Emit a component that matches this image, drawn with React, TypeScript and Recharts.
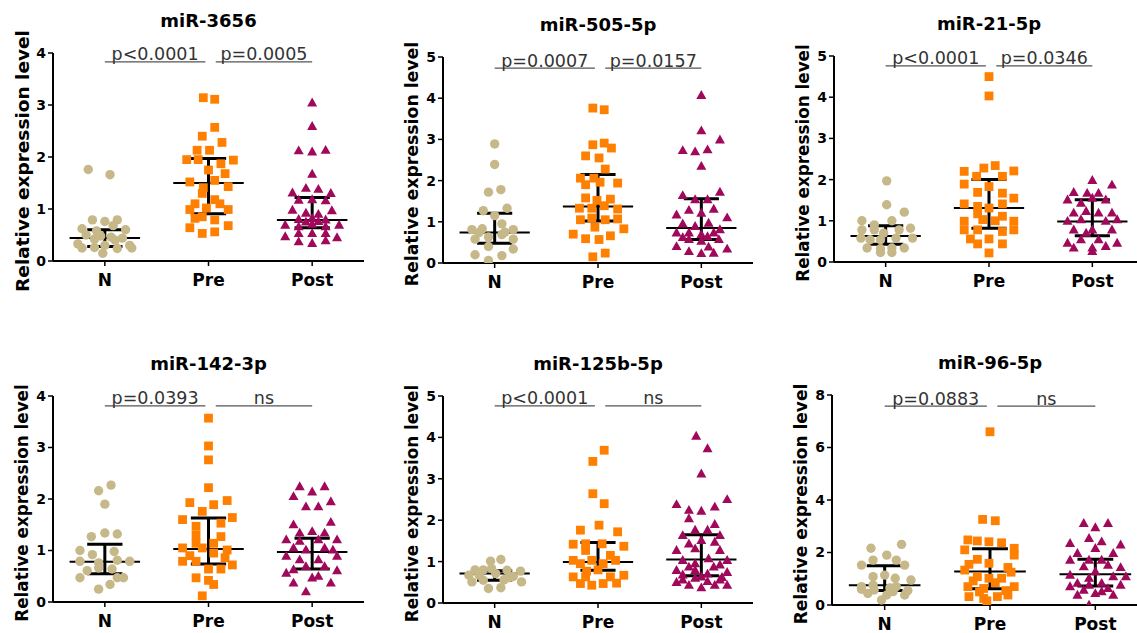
import { ReferenceLine, Scatter, ScatterChart, XAxis, YAxis } from "recharts";

const GROUPS = ["N", "Pre", "Post"];

const TAN = "#C6B888";
const ORANGE = "#FF8000";
const MAROON = "#A0085A";
const FONT = "'DejaVu Sans', 'Liberation Sans', sans-serif";

// [x jitter, value] pairs
const m3656N = [[-0.16, 1.76], [0.05, 1.66], [-0.12, 0.79], [0.0, 0.76], [0.12, 0.79], [-0.22, 0.62], [0.08, 0.68], [-0.08, 0.58], [0.2, 0.6], [-0.18, 0.5], [-0.04, 0.48], [0.06, 0.46], [0.17, 0.44], [-0.1, 0.42], [0.1, 0.4], [-0.26, 0.33], [0.0, 0.3], [0.24, 0.3], [-0.22, 0.25], [-0.1, 0.26], [0.12, 0.24], [0.26, 0.25], [-0.02, 0.15]];
const m3656Pre = [[-0.05, 3.14], [0.06, 3.11], [0.06, 2.57], [-0.06, 2.4], [0.13, 2.28], [-0.11, 2.13], [0.01, 2.13], [-0.21, 1.95], [-0.1, 1.95], [0.12, 1.87], [0.24, 1.94], [0.0, 1.75], [0.16, 1.68], [-0.18, 1.52], [-0.05, 1.41], [0.06, 1.55], [0.19, 1.43], [-0.06, 1.3], [0.06, 1.18], [-0.13, 1.1], [0.11, 1.1], [-0.02, 1.02], [-0.18, 0.99], [0.19, 0.99], [-0.06, 0.85], [0.06, 0.79], [-0.13, 0.82], [-0.18, 0.64], [0.19, 0.68], [-0.06, 0.53], [0.06, 0.56]];
const m3656Post = [[0, 3.04], [0, 2.59], [-0.13, 2.12], [0, 2.1], [0.13, 2.13], [0, 1.67], [-0.19, 1.31], [-0.06, 1.4], [0.06, 1.38], [0.18, 1.3], [-0.13, 1.17], [0.13, 1.16], [0, 1.18], [-0.19, 0.98], [-0.06, 0.92], [0.06, 0.9], [0.19, 0.97], [-0.13, 0.8], [0, 0.82], [0.13, 0.79], [-0.06, 0.75], [0.06, 0.76], [-0.26, 0.69], [-0.13, 0.66], [0, 0.71], [0.13, 0.66], [0.26, 0.69], [-0.26, 0.47], [-0.13, 0.53], [0, 0.53], [0.13, 0.53], [0.24, 0.45], [-0.13, 0.37], [0, 0.34], [0.13, 0.39]];

const m505N = [[0, 2.89], [0, 2.39], [-0.06, 1.72], [0.06, 1.78], [-0.11, 1.27], [0.12, 1.33], [0, 1.15], [-0.22, 0.81], [-0.12, 0.83], [0.07, 0.95], [0.18, 0.81], [0.1, 0.75], [-0.15, 0.74], [-0.19, 0.58], [-0.06, 0.63], [0.07, 0.69], [0.18, 0.58], [-0.06, 0.4], [0.18, 0.34], [-0.19, 0.2], [0.07, 0.18], [-0.06, 0.06]];
const m505Pre = [[-0.05, 3.76], [0.06, 3.72], [-0.05, 2.87], [0.06, 2.91], [0.13, 2.79], [-0.12, 2.6], [0.01, 2.55], [0.07, 2.28], [-0.17, 2.06], [-0.04, 2.06], [-0.12, 1.9], [0.19, 1.94], [0.02, 1.96], [-0.12, 1.58], [-0.01, 1.52], [0.12, 1.55], [-0.18, 1.33], [-0.06, 1.33], [0.06, 1.39], [0.19, 1.31], [-0.17, 1.05], [-0.06, 1.09], [0.07, 1.05], [0.19, 1.07], [-0.03, 0.87], [0.25, 0.83], [-0.24, 0.7], [0.12, 0.66], [-0.12, 0.59], [0.01, 0.57], [0.07, 0.24], [-0.05, 0.15]];
const m505Post = [[0, 4.07], [0, 3.21], [0.18, 2.99], [-0.18, 2.73], [-0.06, 2.7], [0.06, 2.75], [0, 2.35], [-0.18, 1.64], [-0.06, 1.54], [0.06, 1.54], [0.18, 1.72], [-0.24, 1.17], [-0.12, 1.28], [0, 1.21], [0.12, 1.31], [0.25, 1.1], [-0.18, 0.95], [-0.06, 0.89], [0.07, 0.97], [0.18, 0.81], [-0.24, 0.73], [-0.12, 0.73], [0, 0.69], [0.12, 0.73], [-0.18, 0.62], [0.06, 0.64], [-0.24, 0.4], [-0.12, 0.57], [0, 0.53], [0.07, 0.39], [0.25, 0.34], [0.17, 0.57], [-0.12, 0.28], [0, 0.23], [0.12, 0.24]];

const m21N = [[0.01, 1.97], [0.01, 1.39], [0.18, 1.21], [-0.23, 1.0], [-0.11, 0.9], [0.06, 1.0], [0.24, 0.82], [-0.23, 0.78], [-0.11, 0.78], [-0.02, 0.7], [0.13, 0.78], [-0.24, 0.58], [-0.15, 0.54], [-0.05, 0.54], [0.1, 0.58], [0.26, 0.58], [-0.18, 0.34], [-0.05, 0.32], [0.06, 0.34], [0.18, 0.34], [-0.05, 0.23], [0.06, 0.23]];
const m21Pre = [[0, 4.5], [0, 4.03], [-0.24, 2.2], [-0.05, 2.28], [0.06, 2.34], [0.24, 2.21], [-0.12, 2.08], [0.13, 2.08], [-0.24, 1.89], [-0.11, 1.69], [0.13, 1.67], [0.24, 1.55], [0, 1.83], [-0.24, 1.41], [-0.11, 1.35], [0, 1.31], [0.13, 1.41], [-0.11, 1.17], [0.13, 1.11], [-0.24, 0.99], [-0.06, 1.03], [0.06, 1.0], [0.24, 0.99], [-0.24, 0.78], [-0.11, 0.78], [0.13, 0.74], [0.24, 0.78], [-0.18, 0.56], [0, 0.56], [-0.11, 0.44], [0.13, 0.44], [0, 0.22]];
const m21Post = [[0, 1.98], [-0.18, 1.69], [-0.05, 1.67], [0.06, 1.67], [0.19, 1.87], [-0.24, 1.51], [-0.11, 1.43], [0.13, 1.51], [0, 1.55], [-0.18, 1.19], [-0.06, 1.23], [0.06, 1.19], [0.19, 1.19], [-0.24, 0.99], [-0.11, 1.03], [0.13, 0.99], [0.24, 1.03], [-0.18, 0.78], [0, 0.78], [0.19, 0.78], [-0.06, 0.7], [-0.24, 0.46], [-0.11, 0.54], [0.06, 0.54], [0.24, 0.46], [0, 0.34], [0.13, 0.38], [-0.18, 0.34], [0, 0.26]];

const m142N = [[0.06, 2.27], [-0.06, 2.16], [0, 1.9], [-0.13, 1.27], [0, 1.34], [0.12, 1.32], [-0.24, 1.0], [-0.12, 0.92], [0.09, 0.98], [0.24, 0.79], [-0.24, 0.79], [-0.06, 0.76], [0.12, 0.81], [-0.17, 0.61], [-0.06, 0.66], [0.07, 0.64], [-0.24, 0.47], [0.12, 0.47], [0.18, 0.47], [0.05, 0.34], [-0.06, 0.25]];
const m142Pre = [[0, 3.57], [0, 3.03], [0, 2.76], [0, 2.22], [-0.18, 1.93], [0.05, 1.89], [0.18, 1.97], [-0.06, 1.76], [-0.25, 1.6], [0.23, 1.64], [-0.12, 1.47], [0.12, 1.53], [-0.12, 1.3], [0.12, 1.27], [-0.25, 1.05], [-0.12, 1.14], [0.05, 1.14], [0.18, 1.01], [-0.06, 1.05], [0.05, 0.95], [-0.18, 0.9], [0.16, 0.86], [-0.25, 0.79], [-0.12, 0.79], [0.23, 0.72], [0, 0.64], [0.12, 0.64], [-0.12, 0.47], [0, 0.42], [0.05, 0.34], [-0.06, 0.12]];
const m142Post = [[-0.12, 2.24], [0.12, 2.24], [0, 2.14], [-0.18, 2.05], [0.18, 1.95], [-0.06, 1.85], [0.06, 1.85], [-0.18, 1.5], [0.18, 1.55], [-0.12, 1.34], [0, 1.37], [0.12, 1.34], [-0.25, 1.21], [-0.12, 1.18], [0.06, 1.21], [0.24, 1.21], [-0.18, 1.05], [-0.06, 1.01], [0.12, 1.05], [0.2, 1.01], [-0.25, 0.89], [-0.12, 0.82], [0.06, 0.82], [0.24, 0.89], [-0.18, 0.63], [-0.06, 0.69], [0.12, 0.69], [0.24, 0.61], [-0.25, 0.56], [0.06, 0.5], [-0.18, 0.37], [0, 0.47], [0.18, 0.37], [-0.06, 0.2]];

const m125N = [[-0.04, 1.01], [0.06, 1.05], [-0.19, 0.8], [-0.11, 0.8], [0.12, 0.79], [0.25, 0.77], [-0.25, 0.67], [-0.15, 0.67], [0.01, 0.71], [0.18, 0.64], [-0.22, 0.51], [-0.11, 0.55], [0.09, 0.56], [0.26, 0.51], [-0.06, 0.35], [0.06, 0.37], [-0.03, 0.83], [0.14, 0.61]];
const m125Pre = [[0.06, 3.69], [-0.05, 3.42], [-0.05, 2.64], [0.06, 2.4], [0.01, 1.88], [-0.17, 1.76], [0.19, 1.72], [-0.24, 1.42], [-0.12, 1.43], [0.04, 1.43], [0.25, 1.37], [-0.12, 1.27], [0.12, 1.15], [-0.24, 1.03], [-0.06, 1.03], [0.17, 1.03], [-0.17, 0.95], [0.05, 0.95], [-0.24, 0.63], [-0.12, 0.63], [0.12, 0.63], [0.25, 0.67], [-0.17, 0.47], [-0.06, 0.43], [0.05, 0.47], [0.18, 0.48], [0, 0.8], [-0.11, 0.77]];
const m125Post = [[-0.05, 4.03], [0.06, 3.73], [0, 3.12], [0.25, 2.5], [-0.24, 2.38], [-0.12, 2.24], [0, 2.22], [0.13, 2.32], [-0.12, 2.04], [0.13, 1.9], [-0.18, 1.63], [-0.06, 1.76], [0.06, 1.76], [0.18, 1.63], [-0.12, 1.43], [0, 1.51], [0.13, 1.47], [-0.24, 1.27], [-0.06, 1.31], [0.18, 1.27], [-0.18, 1.03], [0.07, 1.07], [0.25, 1.03], [-0.06, 0.95], [0.18, 0.92], [-0.12, 0.87], [0.12, 0.87], [-0.24, 0.79], [-0.06, 0.79], [0.06, 0.7], [-0.18, 0.68], [0.25, 0.74], [-0.18, 0.56], [0, 0.63], [0.18, 0.56], [-0.24, 0.5], [0.06, 0.52], [-0.06, 0.6], [0.2, 0.62], [-0.12, 0.43], [0, 0.37], [0.13, 0.43], [0.25, 0.43]];

const m96N = [[0.16, 2.31], [-0.13, 2.16], [0.02, 1.9], [-0.11, 1.71], [0.11, 1.71], [-0.22, 1.52], [0.19, 1.52], [-0.11, 1.08], [0, 1.14], [0.1, 1.02], [0.25, 0.95], [-0.22, 0.7], [-0.11, 0.76], [0.11, 0.7], [0.22, 0.55], [-0.22, 0.6], [0.05, 0.65], [-0.1, 0.57], [0.08, 0.51], [-0.16, 0.44], [0.02, 0.38], [0.19, 0.38], [-0.03, 0.19]];
const m96Pre = [[0, 6.6], [-0.07, 3.26], [0.05, 3.21], [-0.21, 2.48], [-0.12, 2.44], [-0.01, 2.41], [0.11, 2.37], [-0.24, 2.1], [0.23, 2.16], [0.23, 1.9], [-0.12, 1.74], [-0.01, 1.59], [-0.2, 1.55], [-0.24, 1.33], [0.17, 1.43], [0.2, 1.25], [-0.12, 1.08], [-0.01, 1.02], [0.11, 1.02], [-0.16, 0.92], [0.05, 0.85], [-0.21, 0.7], [-0.06, 0.63], [0.23, 0.7], [0.15, 0.55], [-0.1, 0.5], [-0.2, 0.32], [-0.06, 0.25], [0.07, 0.32], [0.17, 0.38], [-0.03, 0.16]];
const m96Post = [[-0.11, 3.11], [0.12, 3.11], [0, 2.95], [-0.24, 2.35], [-0.06, 2.54], [0.06, 2.41], [0.24, 2.29], [-0.17, 1.97], [0, 2.16], [0.17, 1.97], [-0.24, 1.71], [-0.06, 1.71], [0.06, 1.71], [-0.11, 1.46], [0.12, 1.52], [0.24, 1.43], [-0.24, 1.14], [0, 1.27], [0.17, 1.08], [0.29, 1.08], [-0.06, 1.02], [-0.17, 0.83], [-0.06, 0.76], [0.06, 0.83], [0.24, 0.76], [-0.24, 0.7], [0.12, 0.63], [-0.11, 0.57], [0.06, 0.51], [-0.17, 0.38], [0, 0.44], [0.17, 0.38], [-0.06, 0.0]];

// [median, Q1, Q3] for N, Pre, Post
const m3656Stats = [[0.44, 0.28, 0.6], [1.5, 0.91, 1.97], [0.79, 0.64, 1.22]];
const m505Stats = [[0.74, 0.48, 1.21], [1.37, 1.02, 2.15], [0.85, 0.57, 1.56]];
const m21Stats = [[0.63, 0.43, 0.88], [1.31, 0.82, 2.0], [0.98, 0.64, 1.51]];
const m142Stats = [[0.78, 0.55, 1.12], [1.03, 0.74, 1.63], [0.97, 0.64, 1.24]];
const m125Stats = [[0.71, 0.55, 0.78], [0.99, 0.79, 1.46], [1.05, 0.66, 1.65]];
const m96Stats = [[0.75, 0.55, 1.5], [1.28, 0.62, 2.14], [1.17, 0.72, 1.74]];

// p-value labels (N vs Pre, Pre vs Post)
const m3656P = ["p<0.0001", "p=0.0005"];
const m505P = ["p=0.0007", "p=0.0157"];
const m21P = ["p<0.0001", "p=0.0346"];
const m142P = ["p=0.0393", "ns"];
const m125P = ["p<0.0001", "ns"];
const m96P = ["p=0.0883", "ns"];

const panels = [
  { title: "miR-3656", n: m3656N, pre: m3656Pre, post: m3656Post, stats: m3656Stats, p: m3656P, yMax: 4, yTicks: [0, 1, 2, 3, 4], bracket: 3.83, left: 53, top: 53, w: 311, h: 208, labelSize: 18.5 },
  { title: "miR-505-5p", n: m505N, pre: m505Pre, post: m505Post, stats: m505Stats, p: m505P, yMax: 5, yTicks: [0, 1, 2, 3, 4, 5], bracket: 4.73, left: 443, top: 57, w: 310, h: 206, labelSize: 17.3 },
  { title: "miR-21-5p", n: m21N, pre: m21Pre, post: m21Post, stats: m21Stats, p: m21P, yMax: 5, yTicks: [0, 1, 2, 3, 4, 5], bracket: 4.76, left: 834, top: 56, w: 310, h: 206, labelSize: 16.8 },
  { title: "miR-142-3p", n: m142N, pre: m142Pre, post: m142Post, stats: m142Stats, p: m142P, yMax: 4, yTicks: [0, 1, 2, 3, 4], bracket: 3.81, left: 53, top: 396, w: 311, h: 206, labelSize: 16.8 },
  { title: "miR-125b-5p", n: m125N, pre: m125Pre, post: m125Post, stats: m125Stats, p: m125P, yMax: 5, yTicks: [0, 1, 2, 3, 4, 5], bracket: 4.76, left: 443, top: 396, w: 310, h: 207, labelSize: 16.8 },
  { title: "miR-96-5p", n: m96N, pre: m96Pre, post: m96Post, stats: m96Stats, p: m96P, yMax: 8, yTicks: [0, 2, 4, 6, 8], bracket: 7.58, left: 832, top: 395, w: 316, h: 210, labelSize: 17 },
];

const toPoints = (rows: number[][], g: number) => rows.map(([dx, v]) => ({ x: g + dx, y: v }));

const Dot = (p: any) => <circle cx={p.cx} cy={p.cy} r={4.7} fill={TAN} />;
const Sq = (p: any) => <rect x={p.cx - 4.4} y={p.cy - 4.4} width={8.8} height={8.8} fill={ORANGE} />;
const Tri = (p: any) => (
  <path d={`M${p.cx},${p.cy - 5.3}L${p.cx + 5},${p.cy + 3.6}L${p.cx - 5},${p.cy + 3.6}Z`} fill={MAROON} />
);

const PAD_L = 53;
const PAD_T = 53;

function Panel({ cfg }: { cfg: (typeof panels)[number] }) {
  const width = PAD_L + cfg.w + 4;
  const height = PAD_T + cfg.h + 40;
  const pLabel = (text: string) => (props: any) => {
    const vb = props.viewBox;
    return (
      <text x={vb.x + vb.width / 2} y={vb.y - 1.5} textAnchor="middle" fill="#333" fontSize={17.5} fontFamily={FONT}>
        {text}
      </text>
    );
  };
  const yLabel = (props: any) => {
    const vb = props.viewBox;
    const cx = vb.x + vb.width - 31;
    const cy = vb.y + vb.height / 2 + 4;
    return (
      <text
        x={cx}
        y={cy}
        dy="0.36em"
        transform={`rotate(-90, ${cx}, ${cy})`}
        textAnchor="middle"
        fontSize={cfg.labelSize}
        fontWeight="bold"
        fontFamily={FONT}
        fill="#000"
      >
        Relative expression level
      </text>
    );
  };

  return (
    <div style={{ position: "absolute", left: cfg.left - PAD_L, top: cfg.top - PAD_T, width, height }}>
      <ScatterChart width={width} height={height} margin={{ top: PAD_T, left: 8, right: 4, bottom: 5 }}>
        <XAxis
          type="number"
          dataKey="x"
          domain={[-0.5, 2.5]}
          ticks={[0, 1, 2]}
          tickFormatter={(v: number) => GROUPS[v]}
          allowDataOverflow
          height={35}
          tickSize={5}
          tickMargin={8}
          axisLine={{ stroke: "#000", strokeWidth: 2 }}
          tickLine={{ stroke: "#000", strokeWidth: 1.5 }}
          tick={{ fill: "#000", fontSize: 17, fontWeight: "bold", fontFamily: FONT }}
        />
        <YAxis
          type="number"
          dataKey="y"
          domain={[0, cfg.yMax]}
          ticks={cfg.yTicks}
          allowDataOverflow
          width={45}
          tickSize={5}
          tickMargin={2}
          axisLine={{ stroke: "#000", strokeWidth: 2 }}
          tickLine={{ stroke: "#000", strokeWidth: 1.5 }}
          tick={{ fill: "#000", fontSize: 14, fontWeight: "bold", fontFamily: FONT }}
          label={yLabel}
        />
        <Scatter data={toPoints(cfg.n, 0)} shape={Dot} isAnimationActive={false} />
        <Scatter data={toPoints(cfg.pre, 1)} shape={Sq} isAnimationActive={false} />
        <Scatter data={toPoints(cfg.post, 2)} shape={Tri} isAnimationActive={false} />
        {cfg.stats.map(([med, q1, q3], g) => [
          <ReferenceLine key={`m${g}`} segment={[{ x: g - 0.34, y: med }, { x: g + 0.34, y: med }]} stroke="#000" strokeWidth={2} />,
          <ReferenceLine key={`v${g}`} segment={[{ x: g, y: q1 }, { x: g, y: q3 }]} stroke="#000" strokeWidth={3} />,
          <ReferenceLine key={`a${g}`} segment={[{ x: g - 0.17, y: q1 }, { x: g + 0.17, y: q1 }]} stroke="#000" strokeWidth={3} />,
          <ReferenceLine key={`b${g}`} segment={[{ x: g - 0.17, y: q3 }, { x: g + 0.17, y: q3 }]} stroke="#000" strokeWidth={3} />,
        ])}
        <ReferenceLine segment={[{ x: 0, y: cfg.bracket }, { x: 0.97, y: cfg.bracket }]} stroke="#555" strokeWidth={1.3} label={pLabel(cfg.p[0])} />
        <ReferenceLine segment={[{ x: 1.07, y: cfg.bracket }, { x: 2, y: cfg.bracket }]} stroke="#555" strokeWidth={1.3} label={pLabel(cfg.p[1])} />
      </ScatterChart>
      <svg width={width} height={PAD_T} style={{ position: "absolute", left: 0, top: 0, pointerEvents: "none" }}>
        <text x={PAD_L + cfg.w / 2} y={PAD_T - 26} textAnchor="middle" fontSize={18} fontWeight="bold" fontFamily={FONT} fill="#000">
          {cfg.title}
        </text>
      </svg>
    </div>
  );
}

export default function App() {
  return (
    <div style={{ position: "absolute", left: 0, top: 0, width: 1137, height: 633, overflow: "hidden", background: "#fff" }}>
      {panels.map((cfg) => (
        <Panel key={cfg.title} cfg={cfg} />
      ))}
    </div>
  );
}
